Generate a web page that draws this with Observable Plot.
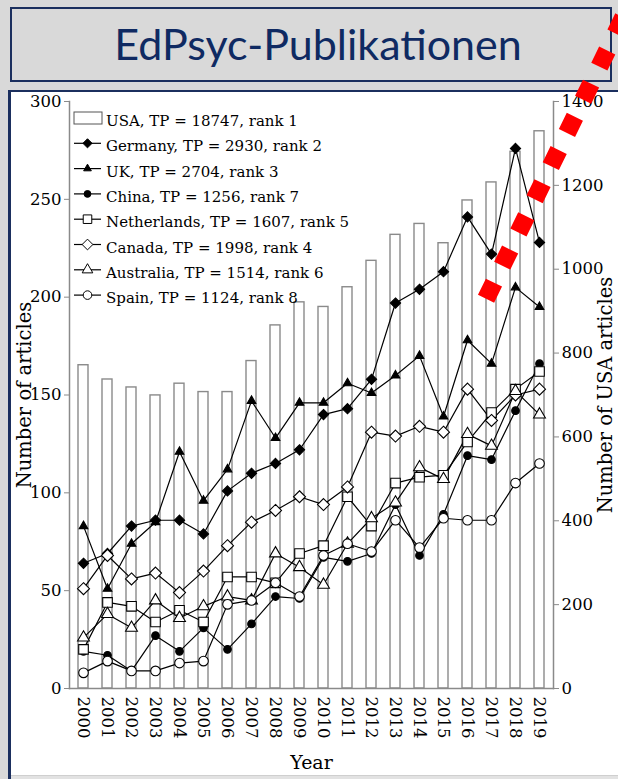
<!DOCTYPE html>
<html>
<head>
<meta charset="utf-8">
<script src="https://cdn.jsdelivr.net/npm/d3@7"></script>
<script src="https://cdn.jsdelivr.net/npm/@observablehq/plot@0.6"></script>
<style>
html,body{margin:0;padding:0;width:618px;height:779px;overflow:hidden;background:#d9d9d9;}
#title{position:absolute;left:10px;top:7px;width:602px;height:75px;box-sizing:border-box;border:2px solid #1b2f5e;}
#title span{position:absolute;left:0;width:100%;top:9px;text-align:center;font-family:Lato,sans-serif;font-size:43px;color:#0f2a62;padding-left:14px;box-sizing:border-box;}
#panel{position:absolute;left:8px;top:90px;width:610px;height:689px;box-sizing:border-box;background:#fff;border-left:3px solid #1b2f5e;border-top:2px solid #1b2f5e;}
#chart{position:absolute;left:0;top:0;}
#bottom{position:absolute;left:11px;top:775px;width:607px;height:4px;background:#e2e2e2;border-top:1px solid #cfcfcf;}
#overlay{position:absolute;left:0;top:0;pointer-events:none;}
</style>
</head>
<body>
<div id="title"><span>EdPsyc-Publikationen</span></div>
<div id="panel"><div id="chart"></div></div>
<div id="bottom"></div>
<svg id="overlay" width="618" height="779"></svg>
<script>
// ---- data ----
const years = [2000,2001,2002,2003,2004,2005,2006,2007,2008,2009,2010,2011,2012,2013,2014,2015,2016,2017,2018,2019];
const usa         = [771,737,718,699,727,707,707,781,866,921,910,957,1020,1082,1108,1062,1164,1207,1280,1329];
const germany     = [64,69,83,86,86,79,101,110,115,122,140,143,158,197,204,213,241,222,276,228];
const uk          = [83,51,74,85,121,96,112,147,128,146,146,156,151,160,170,139,178,166,205,195];
const china       = [19,17,9,27,19,31,20,33,47,46,67,65,69,94,68,89,119,117,142,166];
const netherlands = [20,44,42,34,40,34,57,57,54,69,73,98,83,105,108,109,126,141,153,162];
const canada      = [51,68,56,59,49,60,73,85,91,98,94,103,131,129,134,131,153,137,150,153];
const australia   = [26,38,31,45,36,42,47,45,69,62,53,74,87,95,113,107,130,124,152,140];
const spain       = [8,14,9,9,13,14,43,45,54,47,68,74,70,86,72,87,86,86,105,115];
const legendLabels = [
  "USA, TP = 18747, rank 1",
  "Germany, TP = 2930, rank 2",
  "UK, TP = 2704, rank 3",
  "China, TP = 1256, rank 7",
  "Netherlands, TP = 1607, rank 5",
  "Canada, TP = 1998, rank 4",
  "Australia, TP = 1514, rank 6",
  "Spain, TP = 1124, rank 8"
];
const leftTicks = [0,50,100,150,200,250,300];
const rightTicks = [0,200,400,600,800,1000,1200,1400];

// ---- styles ----
const series = [
  {values: germany,     symbol: "diamond2", fill: "black", r: 4.6},
  {values: uk,          symbol: "triangle", fill: "black", r: 3.2},
  {values: china,       symbol: "circle",   fill: "black", r: 3.8},
  {values: netherlands, symbol: "square",   fill: "white", r: 5.4},
  {values: canada,      symbol: "diamond2", fill: "white", r: 5.4},
  {values: australia,   symbol: "triangle", fill: "white", r: 4.4},
  {values: spain,       symbol: "circle",   fill: "white", r: 4.8}
];
const k = 300 / 1400; // right axis (USA) to left axis
const idx = d3.range(years.length);
const grey = "#8a8a8a";

const chart = Plot.plot({
  width: 607, height: 683,
  marginLeft: 58, marginRight: 65, marginTop: 9, marginBottom: 87,
  style: {fontFamily: "DejaVu Serif", fontSize: "16.5px", color: "black", background: "transparent"},
  x: {type: "band", domain: years, paddingInner: 0.58, paddingOuter: 0.3, align: 0.5},
  y: {domain: [0, 300]},
  marks: [
    Plot.barY(idx, {x: i => years[i], y: i => usa[i] * k, fill: "white", stroke: grey, strokeWidth: 1.4}),
    Plot.frame({anchor: "left", stroke: grey, strokeWidth: 1.5}),
    Plot.frame({anchor: "right", stroke: grey, strokeWidth: 1.5}),
    Plot.frame({anchor: "bottom", stroke: grey, strokeWidth: 1.5}),
    Plot.axisY({ticks: leftTicks, tickSize: 5, tickPadding: 3, stroke: grey, fill: "black",
      label: "Number of articles", labelAnchor: "center", labelOffset: 52, labelArrow: "none"}),
    Plot.axisY({anchor: "right", ticks: rightTicks.map(v => v * k), tickFormat: d => String(Math.round(d / k)),
      tickSize: 5, tickPadding: 3, stroke: grey, fill: "black",
      label: "Number of USA articles", labelAnchor: "center", labelOffset: 58, labelArrow: "none"}),
    Plot.axisX({tickRotate: 90, tickSize: 0, tickPadding: 8, tickFormat: "d", fill: "black",
      label: "Year", labelAnchor: "center", labelOffset: 80, labelArrow: "none"}),
    ...series.map(s => Plot.line(idx, {x: i => years[i], y: i => s.values[i], stroke: "black", strokeWidth: 1.2})),
    ...series.map(s => Plot.dot(idx, {x: i => years[i], y: i => s.values[i], symbol: s.symbol, r: s.r, fill: s.fill, stroke: "black", strokeWidth: 1.1}))
  ]
});
chart.querySelectorAll("g[aria-label='y-axis label'] text").forEach(t => t.style.fontSize = "19.5px");
chart.querySelectorAll("g[aria-label='x-axis label'] text").forEach(t => t.style.fontSize = "19px");
document.getElementById("chart").appendChild(chart);

// ---- legend & decoration overlay ----
const ov = d3.select("#overlay");
const symMap = {circle: d3.symbolCircle, square: d3.symbolSquare, triangle: d3.symbolTriangle, diamond2: d3.symbolDiamond2};
legendLabels.forEach((lab, j) => {
  const base = 126 + 25.3 * j, cy = base - 8;
  if (j === 0) {
    ov.append("rect").attr("x", 74).attr("y", cy - 6).attr("width", 28).attr("height", 12)
      .attr("fill", "white").attr("stroke", "#555").attr("stroke-width", 1);
  } else {
    const s = series[j - 1];
    ov.append("line").attr("x1", 74).attr("x2", 101).attr("y1", cy).attr("y2", cy).attr("stroke", "black").attr("stroke-width", 1.2);
    ov.append("path").attr("transform", `translate(87.5,${cy})`)
      .attr("d", d3.symbol(symMap[s.symbol], Math.PI * s.r * s.r * 0.8)())
      .attr("fill", s.fill).attr("stroke", "black").attr("stroke-width", 1);
  }
  ov.append("text").attr("x", 106).attr("y", base).attr("font-family", "DejaVu Serif").attr("font-size", 15).text(lab);
});
// red dotted diagonal decoration
const ux = 0.4386, uy = -0.8988;
const sx = 490 - 9 * ux, sy = 290.7 - 9 * uy;
ov.append("line").attr("x1", sx).attr("y1", sy).attr("x2", sx + 420 * ux).attr("y2", sy + 420 * uy)
  .attr("stroke", "#ff0000").attr("stroke-width", 18).attr("stroke-dasharray", "18 18.9");
</script>
</body>
</html>
